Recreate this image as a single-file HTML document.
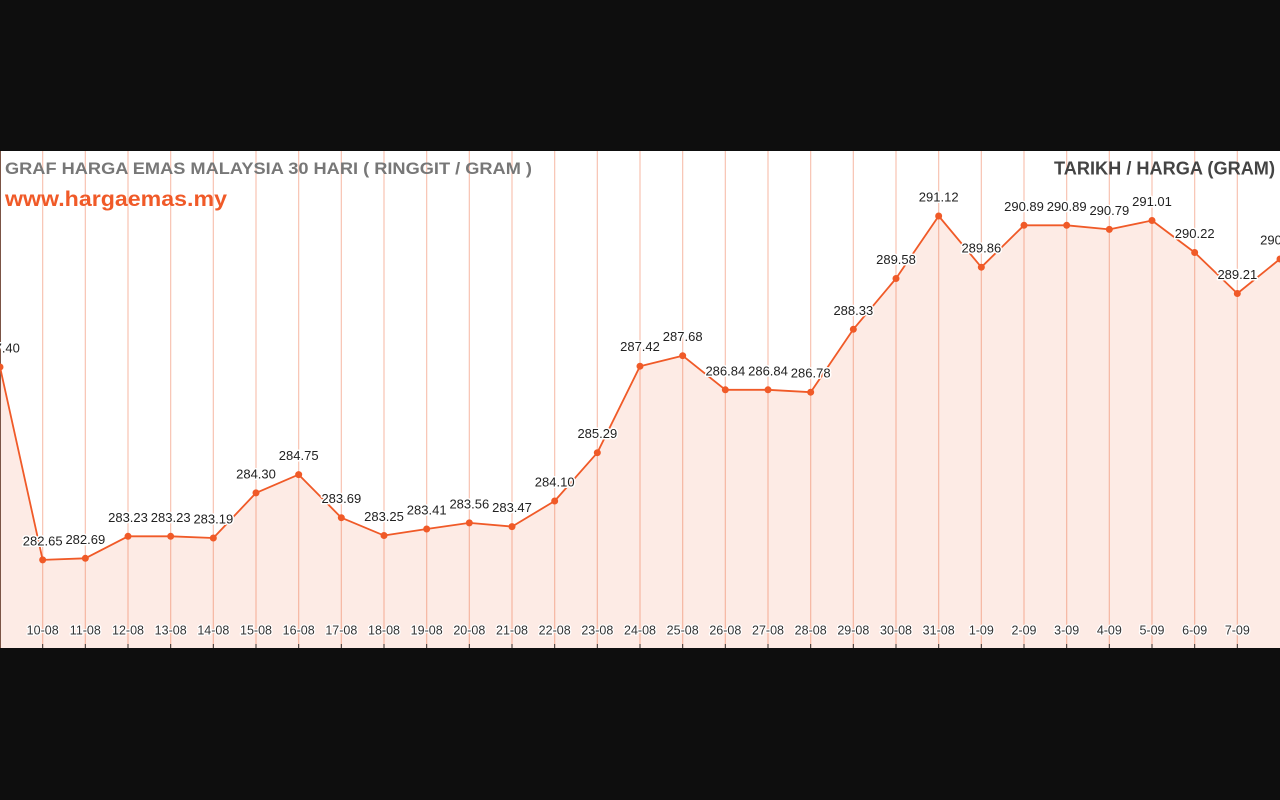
<!DOCTYPE html>
<html><head><meta charset="utf-8"><style>
html,body{margin:0;padding:0;background:#0e0e0e;}
svg{display:block;}
.v{font-family:"Liberation Sans",Arial,sans-serif;font-size:13px;fill:#222;text-anchor:middle;paint-order:stroke;stroke:#fff;stroke-width:3px;stroke-linejoin:round;}
.x{font-family:"Liberation Sans",Arial,sans-serif;font-size:12.5px;fill:#333;text-anchor:middle;paint-order:stroke;stroke:#fff;stroke-width:2.5px;stroke-linejoin:round;}
</style></head><body>
<svg width="1280" height="800" viewBox="0 0 1280 800" xmlns="http://www.w3.org/2000/svg">
<rect x="0" y="0" width="1280" height="800" fill="#0e0e0e"/>
<rect x="0" y="151" width="1280" height="497" fill="#ffffff"/>
<g id="grid" stroke="#f8c3b2" stroke-width="1.2">
<line x1="42.67" y1="151" x2="42.67" y2="648"/><line x1="85.33" y1="151" x2="85.33" y2="648"/><line x1="128" y1="151" x2="128" y2="648"/><line x1="170.67" y1="151" x2="170.67" y2="648"/><line x1="213.33" y1="151" x2="213.33" y2="648"/><line x1="256" y1="151" x2="256" y2="648"/><line x1="298.67" y1="151" x2="298.67" y2="648"/><line x1="341.33" y1="151" x2="341.33" y2="648"/><line x1="384" y1="151" x2="384" y2="648"/><line x1="426.67" y1="151" x2="426.67" y2="648"/><line x1="469.33" y1="151" x2="469.33" y2="648"/><line x1="512" y1="151" x2="512" y2="648"/><line x1="554.67" y1="151" x2="554.67" y2="648"/><line x1="597.33" y1="151" x2="597.33" y2="648"/><line x1="640" y1="151" x2="640" y2="648"/><line x1="682.67" y1="151" x2="682.67" y2="648"/><line x1="725.33" y1="151" x2="725.33" y2="648"/><line x1="768" y1="151" x2="768" y2="648"/><line x1="810.67" y1="151" x2="810.67" y2="648"/><line x1="853.33" y1="151" x2="853.33" y2="648"/><line x1="896" y1="151" x2="896" y2="648"/><line x1="938.67" y1="151" x2="938.67" y2="648"/><line x1="981.33" y1="151" x2="981.33" y2="648"/><line x1="1024" y1="151" x2="1024" y2="648"/><line x1="1066.67" y1="151" x2="1066.67" y2="648"/><line x1="1109.33" y1="151" x2="1109.33" y2="648"/><line x1="1152" y1="151" x2="1152" y2="648"/><line x1="1194.67" y1="151" x2="1194.67" y2="648"/><line x1="1237.33" y1="151" x2="1237.33" y2="648"/>
</g>
<polygon fill="#f05a28" fill-opacity="0.12" points="0,648 0,367 42.67,559.9 85.33,558.3 128,536.3 170.67,536.3 213.33,538 256,492.9 298.67,474.6 341.33,517.7 384,535.5 426.67,529 469.33,522.9 512,526.6 554.67,501 597.33,452.7 640,366.2 682.67,355.7 725.33,389.8 768,389.8 810.67,392.2 853.33,329.3 896,278.5 938.67,216 981.33,267.2 1024,225.3 1066.67,225.3 1109.33,229.4 1152,220.5 1194.67,252.5 1237.33,293.5 1280,259 1280,648"/>
<line x1="0.5" y1="151" x2="0.5" y2="648" stroke="#7b5445" stroke-width="1"/>
<g stroke="#333" stroke-width="1">
<line x1="42.67" y1="644" x2="42.67" y2="648"/><line x1="85.33" y1="644" x2="85.33" y2="648"/><line x1="128" y1="644" x2="128" y2="648"/><line x1="170.67" y1="644" x2="170.67" y2="648"/><line x1="213.33" y1="644" x2="213.33" y2="648"/><line x1="256" y1="644" x2="256" y2="648"/><line x1="298.67" y1="644" x2="298.67" y2="648"/><line x1="341.33" y1="644" x2="341.33" y2="648"/><line x1="384" y1="644" x2="384" y2="648"/><line x1="426.67" y1="644" x2="426.67" y2="648"/><line x1="469.33" y1="644" x2="469.33" y2="648"/><line x1="512" y1="644" x2="512" y2="648"/><line x1="554.67" y1="644" x2="554.67" y2="648"/><line x1="597.33" y1="644" x2="597.33" y2="648"/><line x1="640" y1="644" x2="640" y2="648"/><line x1="682.67" y1="644" x2="682.67" y2="648"/><line x1="725.33" y1="644" x2="725.33" y2="648"/><line x1="768" y1="644" x2="768" y2="648"/><line x1="810.67" y1="644" x2="810.67" y2="648"/><line x1="853.33" y1="644" x2="853.33" y2="648"/><line x1="896" y1="644" x2="896" y2="648"/><line x1="938.67" y1="644" x2="938.67" y2="648"/><line x1="981.33" y1="644" x2="981.33" y2="648"/><line x1="1024" y1="644" x2="1024" y2="648"/><line x1="1066.67" y1="644" x2="1066.67" y2="648"/><line x1="1109.33" y1="644" x2="1109.33" y2="648"/><line x1="1152" y1="644" x2="1152" y2="648"/><line x1="1194.67" y1="644" x2="1194.67" y2="648"/><line x1="1237.33" y1="644" x2="1237.33" y2="648"/>
</g>
<polyline fill="none" stroke="#f05a28" stroke-width="1.8" stroke-linejoin="round" points="0,367 42.67,559.9 85.33,558.3 128,536.3 170.67,536.3 213.33,538 256,492.9 298.67,474.6 341.33,517.7 384,535.5 426.67,529 469.33,522.9 512,526.6 554.67,501 597.33,452.7 640,366.2 682.67,355.7 725.33,389.8 768,389.8 810.67,392.2 853.33,329.3 896,278.5 938.67,216 981.33,267.2 1024,225.3 1066.67,225.3 1109.33,229.4 1152,220.5 1194.67,252.5 1237.33,293.5 1280,259"/>
<g fill="#f05a28">
<circle cx="0" cy="367" r="3.5"/><circle cx="42.67" cy="559.9" r="3.5"/><circle cx="85.33" cy="558.3" r="3.5"/><circle cx="128" cy="536.3" r="3.5"/><circle cx="170.67" cy="536.3" r="3.5"/><circle cx="213.33" cy="538" r="3.5"/><circle cx="256" cy="492.9" r="3.5"/><circle cx="298.67" cy="474.6" r="3.5"/><circle cx="341.33" cy="517.7" r="3.5"/><circle cx="384" cy="535.5" r="3.5"/><circle cx="426.67" cy="529" r="3.5"/><circle cx="469.33" cy="522.9" r="3.5"/><circle cx="512" cy="526.6" r="3.5"/><circle cx="554.67" cy="501" r="3.5"/><circle cx="597.33" cy="452.7" r="3.5"/><circle cx="640" cy="366.2" r="3.5"/><circle cx="682.67" cy="355.7" r="3.5"/><circle cx="725.33" cy="389.8" r="3.5"/><circle cx="768" cy="389.8" r="3.5"/><circle cx="810.67" cy="392.2" r="3.5"/><circle cx="853.33" cy="329.3" r="3.5"/><circle cx="896" cy="278.5" r="3.5"/><circle cx="938.67" cy="216" r="3.5"/><circle cx="981.33" cy="267.2" r="3.5"/><circle cx="1024" cy="225.3" r="3.5"/><circle cx="1066.67" cy="225.3" r="3.5"/><circle cx="1109.33" cy="229.4" r="3.5"/><circle cx="1152" cy="220.5" r="3.5"/><circle cx="1194.67" cy="252.5" r="3.5"/><circle cx="1237.33" cy="293.5" r="3.5"/><circle cx="1280" cy="259" r="3.5"/>
</g>
<g class="v">
<text class="v" x="0" y="352.5">287.40</text>
<text class="v" x="42.67" y="545.5">282.65</text>
<text class="v" x="85.33" y="543.8">282.69</text>
<text class="v" x="128" y="521.8">283.23</text>
<text class="v" x="170.67" y="521.8">283.23</text>
<text class="v" x="213.33" y="523.5">283.19</text>
<text class="v" x="256" y="478.4">284.30</text>
<text class="v" x="298.67" y="460.1">284.75</text>
<text class="v" x="341.33" y="503.2">283.69</text>
<text class="v" x="384" y="521">283.25</text>
<text class="v" x="426.67" y="514.5">283.41</text>
<text class="v" x="469.33" y="508.4">283.56</text>
<text class="v" x="512" y="512.1">283.47</text>
<text class="v" x="554.67" y="486.5">284.10</text>
<text class="v" x="597.33" y="438.2">285.29</text>
<text class="v" x="640" y="351.2">287.42</text>
<text class="v" x="682.67" y="341.2">287.68</text>
<text class="v" x="725.33" y="375.3">286.84</text>
<text class="v" x="768" y="375.3">286.84</text>
<text class="v" x="810.67" y="377.7">286.78</text>
<text class="v" x="853.33" y="314.8">288.33</text>
<text class="v" x="896" y="264">289.58</text>
<text class="v" x="938.67" y="201.5">291.12</text>
<text class="v" x="981.33" y="252.7">289.86</text>
<text class="v" x="1024" y="210.8">290.89</text>
<text class="v" x="1066.67" y="210.8">290.89</text>
<text class="v" x="1109.33" y="214.9">290.79</text>
<text class="v" x="1152" y="206">291.01</text>
<text class="v" x="1194.67" y="238">290.22</text>
<text class="v" x="1237.33" y="279">289.21</text>
<text class="v" x="1280" y="244.5">290.06</text>
</g>
<g>
<text class="x" x="42.67" y="634.5">10-08</text><text class="x" x="85.33" y="634.5">11-08</text><text class="x" x="128" y="634.5">12-08</text><text class="x" x="170.67" y="634.5">13-08</text><text class="x" x="213.33" y="634.5">14-08</text><text class="x" x="256" y="634.5">15-08</text><text class="x" x="298.67" y="634.5">16-08</text><text class="x" x="341.33" y="634.5">17-08</text><text class="x" x="384" y="634.5">18-08</text><text class="x" x="426.67" y="634.5">19-08</text><text class="x" x="469.33" y="634.5">20-08</text><text class="x" x="512" y="634.5">21-08</text><text class="x" x="554.67" y="634.5">22-08</text><text class="x" x="597.33" y="634.5">23-08</text><text class="x" x="640" y="634.5">24-08</text><text class="x" x="682.67" y="634.5">25-08</text><text class="x" x="725.33" y="634.5">26-08</text><text class="x" x="768" y="634.5">27-08</text><text class="x" x="810.67" y="634.5">28-08</text><text class="x" x="853.33" y="634.5">29-08</text><text class="x" x="896" y="634.5">30-08</text><text class="x" x="938.67" y="634.5">31-08</text><text class="x" x="981.33" y="634.5">1-09</text><text class="x" x="1024" y="634.5">2-09</text><text class="x" x="1066.67" y="634.5">3-09</text><text class="x" x="1109.33" y="634.5">4-09</text><text class="x" x="1152" y="634.5">5-09</text><text class="x" x="1194.67" y="634.5">6-09</text><text class="x" x="1237.33" y="634.5">7-09</text>
</g>
<text x="5" y="174" font-family="Liberation Sans, Arial, sans-serif" font-weight="bold" font-size="17" fill="#777777" textLength="527" lengthAdjust="spacingAndGlyphs">GRAF HARGA EMAS MALAYSIA 30 HARI ( RINGGIT / GRAM )</text>
<text x="5" y="206" font-family="Liberation Sans, Arial, sans-serif" font-weight="bold" font-size="21" fill="#f05a28" textLength="222" lengthAdjust="spacingAndGlyphs">www.hargaemas.my</text>
<text x="1054" y="174.3" font-family="Liberation Sans, Arial, sans-serif" font-weight="bold" font-size="18.5" fill="#444444" textLength="221" lengthAdjust="spacingAndGlyphs">TARIKH / HARGA (GRAM)</text>
</svg>
</body></html>
